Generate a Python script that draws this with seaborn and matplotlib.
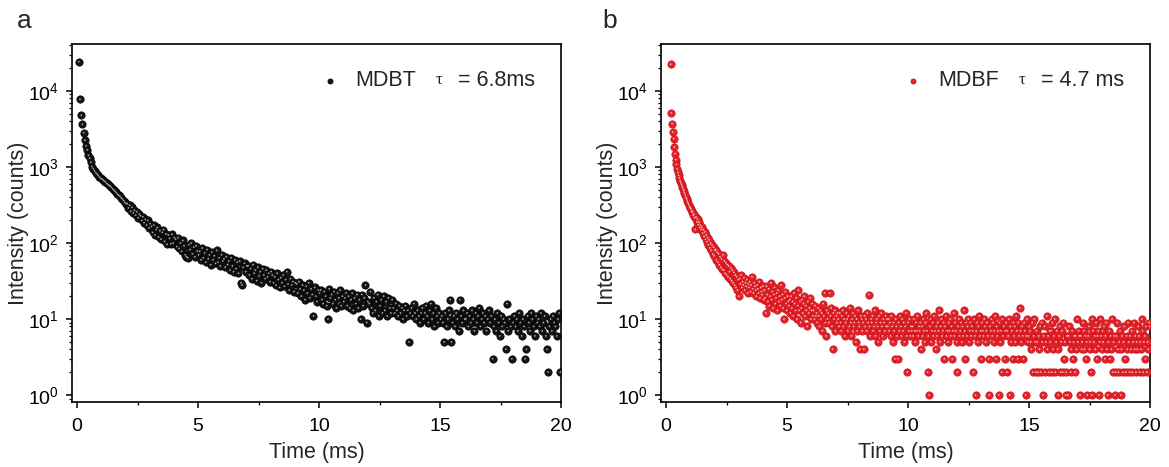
import numpy as np
import pandas as pd
import matplotlib
matplotlib.use("Agg")
import matplotlib.pyplot as plt
import seaborn as sns
from matplotlib.ticker import LogLocator, LogFormatterMathtext, MultipleLocator, NullFormatter, FixedLocator

# ---------------- data ----------------
panel_letters = ["a", "b"]
sample_names = ["MDBT", "MDBF"]
lifetime_texts = ["= 6.8ms", "= 4.7 ms"]
x_tick_values = [0, 5, 10, 15, 20]
x_label = "Time (ms)"
y_label = "Intensity (counts)"

# panel a: decay channels (uniform time grid), counts per channel
time_a_start, time_a_step = 0.07, 0.05
counts_a = [
    24300, 7770, 4790, 3640, 2830, 2260, 1900, 1680, 1420, 1300, 1150, 1010, 950, 890, 840, 810, 775, 740, 710, 700,
    680, 655, 640, 610, 590, 575, 560, 540, 515, 500, 480, 462, 440, 425, 415, 395, 380, 362, 345, 330,
    330, 290, 315, 262, 295, 248, 270, 232, 258, 215, 240, 228, 198, 222, 185, 205, 172, 198, 158, 180,
    165, 138, 172, 128, 150, 160, 120, 145, 112, 138, 150, 105, 132, 96, 128, 115, 98, 130, 100, 118,
    112, 90, 118, 85, 100, 78, 108, 92, 70, 66, 64, 95, 82, 100, 72, 88, 66, 92, 78, 70,
    78, 60, 86, 64, 74, 56, 82, 62, 70, 52, 76, 60, 68, 54, 80, 56, 64, 50, 70, 58,
    62, 48, 66, 52, 58, 44, 64, 50, 42, 60, 46, 56, 40, 58, 30, 28, 48, 54, 42, 50,
    50, 38, 46, 34, 52, 40, 44, 32, 48, 37, 42, 30, 46, 38, 34, 44, 36, 40, 31, 42,
    38, 30, 36, 28, 40, 33, 26, 35, 30, 38, 27, 33, 42, 29, 24, 34, 28, 31, 23, 30,
    29, 22, 31, 25, 20, 28, 24, 18, 27, 22, 30, 19, 25, 21, 11, 26, 20, 17, 24, 22,
    24, 18, 16, 23, 20, 15, 10, 25, 19, 21, 16, 23, 18, 14, 22, 19, 24, 15, 20, 17,
    19, 22, 15, 20, 14, 18, 22, 13, 19, 16, 21, 14, 18, 10, 21, 15, 19, 28, 9, 17,
    16, 23, 14, 12, 19, 13, 17, 21, 11, 15, 18, 12, 20, 13, 17, 11, 19, 14, 12, 18,
    14, 12, 16, 13, 11, 15, 12, 14, 10, 13, 15, 11, 13, 5, 12, 14, 11, 16, 12, 10,
    13, 11, 9, 12, 14, 10, 12, 15, 11, 9, 13, 16, 10, 12, 8, 14, 11, 9, 12, 10,
    11, 9, 5, 12, 8, 10, 13, 18, 5, 9, 11, 8, 12, 10, 7, 18, 11, 9, 13, 10,
    10, 12, 8, 11, 9, 13, 10, 7, 12, 9, 11, 14, 8, 10, 12, 9, 11, 7, 10, 13,
    9, 11, 3, 8, 10, 7, 12, 9, 6, 11, 8, 10, 9, 4, 16, 7, 10, 8, 3, 9,
    11, 8, 10, 7, 12, 9, 6, 10, 8, 3, 4, 11, 9, 7, 12, 10, 8, 6, 11, 9,
    10, 8, 12, 7, 9, 11, 6, 4, 2, 8, 10, 7, 11, 9, 8, 6, 10, 12, 2,
]

# panel b
time_b_start, time_b_step = 0.19, 0.03
counts_b = [
    22500, 5140, 3730, 2880, 2360, 1830, 1500, 1250, 1080, 940, 850, 780, 720, 660, 620, 585, 550, 515, 490, 460,
    430, 400, 380, 355, 335, 318, 300, 290,
    280, 255, 262, 232, 240, 215, 151, 220, 190, 205, 175, 188, 160, 172, 150, 162, 135, 150, 122, 140,
    112, 128, 104, 118, 95, 110, 86, 100, 80, 94, 72, 88, 68, 80,
    82, 60, 76, 56, 72, 52, 66, 48, 62, 45, 70, 44, 58, 40, 55, 38, 52, 36, 50, 42,
    34, 47, 32, 44, 30, 41, 28, 38, 26, 36, 24, 33, 20,
    34, 29, 38, 26, 31, 28, 35, 24, 30, 27, 33, 22, 29, 26, 31, 23, 28, 36, 25, 22,
    30, 27, 24, 20, 28, 25, 22, 31, 19, 26, 23, 21, 27, 18,
    24, 19, 12, 27, 21, 17, 25, 15, 20, 30, 18, 23, 14, 21, 26, 16, 19, 22, 13, 24,
    17, 20, 15, 28, 18, 21, 14, 10, 19, 23, 16, 13, 20, 17,
    15, 18, 12, 20, 14, 17, 11, 22, 16, 13, 19, 10, 15, 24, 13, 17, 9, 14, 18, 12,
    16, 20, 11, 15, 13, 8, 17, 12, 14, 19, 10, 13, 16, 11,
    13, 10, 15, 11, 12, 9, 14, 11, 8, 13, 10, 12, 7, 16, 11, 22, 9, 6, 13, 10,
    12, 9, 22, 11, 14, 8, 4, 12, 10, 13, 7, 11, 9, 12,
    10, 8, 12, 9, 7, 11, 13, 8, 10, 6, 9, 12, 10, 7, 11, 8, 14, 9, 6, 10,
    12, 8, 9, 11, 5, 10, 7, 13, 9, 8, 4, 11, 10, 7,
    9, 4, 11, 8, 10, 7, 12, 9, 21, 8, 6, 10, 9, 11, 7, 8, 13, 6, 9, 10,
    8, 5, 11, 7, 9, 12, 8, 6, 10, 9, 7, 11, 8, 10,
    8, 10, 7, 9, 6, 11, 8, 5, 9, 7, 3, 10, 8, 6, 3, 9, 7, 11, 8, 6,
    10, 7, 9, 5, 8, 12, 6, 2, 9, 7, 10, 6, 8, 7,
    8, 6, 10, 7, 5, 9, 7, 11, 6, 8, 7, 9, 4, 8, 6, 10, 7, 5, 9, 12,
    7, 2, 6, 1, 8, 10, 5, 7, 9, 6, 11, 7, 4, 8, 6, 9, 7, 13, 5, 8,
    10, 6, 7, 9, 3, 8, 11, 6, 7, 5, 9, 7, 10, 6, 8, 3, 7, 12, 6, 9,
    7, 5, 2, 8, 10, 6, 7, 9, 5, 8, 6, 13, 7, 3, 9, 6, 8, 10, 5, 7,
    9, 6, 8, 7, 2, 10, 6, 1, 7, 9, 5, 8, 11, 6, 7, 3, 9, 7, 6, 10,
    8, 5, 7, 9, 6, 3, 1, 8, 7, 10, 6, 9, 5, 7, 11, 3, 8, 6, 7, 1,
    9, 5, 7, 2, 10, 6, 8, 3, 7, 9, 2, 7, 6, 10, 1, 8, 5, 7, 3, 9,
    6, 8, 5, 11, 7, 3, 9, 6, 14, 7, 5, 8, 6, 3, 9, 7, 1, 6, 10, 5,
    6, 8, 7, 5, 4, 9, 2, 6, 10, 5, 2, 7, 5, 2, 6, 4, 8, 2, 9, 5,
    1, 6, 8, 2, 5, 11, 4, 6, 2, 7, 5, 7, 2, 9, 4, 6, 10, 2, 5, 7,
    4, 1, 6, 8, 2, 5, 7, 2, 9, 3, 5, 1, 2, 6, 1, 6, 8, 5, 2, 4,
    7, 3, 5, 6, 2, 6, 4, 10, 5, 7, 6, 1, 6, 4, 5, 9, 7, 4, 6, 3,
    5, 1, 6, 8, 4, 5, 2, 1, 10, 7, 5, 6, 4, 9, 3, 6, 7, 1, 5, 10,
    6, 4, 7, 5, 8, 3, 6, 9, 4, 1, 5, 7, 3, 6, 4, 10, 2, 5, 6, 1,
    2, 6, 9, 4, 2, 5, 7, 1, 4, 6, 2, 5, 8, 3, 2, 6, 4, 9, 5, 2,
    6, 4, 7, 2, 5, 9, 4, 6, 2, 5, 4, 8, 6, 2, 5, 4, 10, 7, 2, 5,
    6, 3, 8, 2, 5, 4, 9, 8,
]

time_a = time_a_start + time_a_step * np.arange(len(counts_a))
time_b = time_b_start + time_b_step * np.arange(len(counts_b))
df_a = pd.DataFrame({"time": time_a, "counts": counts_a})
df_b = pd.DataFrame({"time": time_b, "counts": counts_b})

# ---------------- style ----------------
sns.set_theme(style="ticks")
plt.rcParams["font.family"] = ["Liberation Sans", "DejaVu Sans"]
plt.rcParams["mathtext.default"] = "regular"
plt.rcParams["axes.linewidth"] = 1.2

W, H = 1169, 467
fig = plt.figure(figsize=(W / 100, H / 100), dpi=100)

def fx(px):
    return px / W

def fy(py):
    return 1 - py / H

ax_a = fig.add_axes([fx(72), fy(402), fx(561) - fx(72), fy(44) - fy(402)])
ax_b = fig.add_axes([fx(661), fy(402), fx(1150) - fx(661), fy(44) - fy(402)])

styles = [
    dict(face="#141414", edge="#000000", hi="#a8a8a8"),
    dict(face="#e3222a", edge="#c8141b", hi="#f7b8b8"),
]

panels = [(ax_a, df_a), (ax_b, df_b)]
legend_px = [(321, 81), (904, 81)]
tau_px = [(436, 80), (1019, 80)]
life_px = [(458, 80), (1041, 80)]
letter_px = [(24, 21), (610, 21)]

for i, (ax, df) in enumerate(panels):
    st = styles[i]
    sns.scatterplot(data=df, x="time", y="counts", ax=ax, s=28, color=st["face"],
                    edgecolor=st["edge"], linewidth=0.5, label=sample_names[i], zorder=3)
    sns.scatterplot(data=df, x="time", y="counts", ax=ax, s=1.6, color=st["hi"],
                    edgecolor="none", linewidth=0, legend=False, zorder=4)
    ax.set_yscale("log")
    ax.set_xlim(-0.21, 20)
    ax.set_ylim(0.81, 41500)
    ax.xaxis.set_major_locator(FixedLocator(x_tick_values))
    ax.xaxis.set_minor_locator(MultipleLocator(2.5))
    ax.yaxis.set_major_locator(LogLocator(base=10, numticks=12))
    ax.yaxis.set_major_formatter(LogFormatterMathtext())
    ax.yaxis.set_minor_locator(LogLocator(base=10, subs=np.arange(2, 10), numticks=12))
    ax.yaxis.set_minor_formatter(NullFormatter())
    ax.tick_params(which="major", direction="out", length=4.5, width=1.1, labelsize=14,
                   pad=5, colors="black")
    ax.tick_params(which="minor", direction="out", length=2.5, width=0.9, colors="black")
    ax.tick_params(axis="x", which="major", pad=7)
    for sp in ax.spines.values():
        sp.set_visible(True)
        sp.set_color("black")
        sp.set_linewidth(1.2)
    ax.set_xlabel(x_label, fontsize=15.5, labelpad=5)
    ax.set_ylabel(y_label, fontsize=15.5)
    ax.yaxis.set_label_coords(-0.088, 0.5)
    ax.set_facecolor("white")

    leg = ax.legend(loc="center left", bbox_to_anchor=(fx(legend_px[i][0]), fy(legend_px[i][1])),
                    bbox_transform=fig.transFigure, frameon=False, fontsize=15.5,
                    handlelength=0.8, handletextpad=0.8, borderpad=0, borderaxespad=0,
                    markerscale=0.7)
    fig.text(fx(tau_px[i][0]), fy(tau_px[i][1]), "\u03c4", fontsize=12,
             family=["Liberation Serif", "DejaVu Serif"], va="center", ha="left")
    fig.text(fx(life_px[i][0]), fy(life_px[i][1]), lifetime_texts[i], fontsize=15.5,
             va="center", ha="left")
    fig.text(fx(letter_px[i][0]), fy(letter_px[i][1]), panel_letters[i], fontsize=19,
             va="center", ha="center")

fig.savefig("out.png", dpi=100, facecolor="white")
